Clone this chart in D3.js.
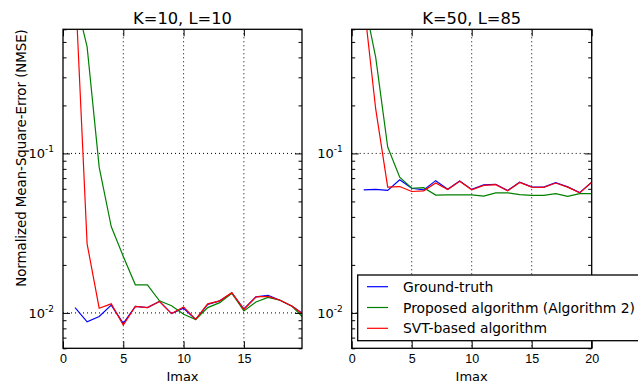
<!DOCTYPE html>
<html lang="en">
<head>
<meta charset="UTF-8">
<title>NMSE vs Imax</title>
<script src="https://d3js.org/d3.v7.min.js" charset="utf-8"></script>
<style>
  body { margin: 0; background: white; }
  svg { font-family: "DejaVu Sans", sans-serif; }
  .axis text { font-size: 12.5px; fill: black; }
  .axis line { stroke: black; stroke-width: 1px; }
  .axis path { display: none; }
  .grid line { stroke: black; stroke-width: 1px; stroke-dasharray: 1,3; }
  .frame { fill: none; stroke: black; stroke-width: 1.3px; }
  .series { fill: none; stroke-width: 1.2px; }
</style>
</head>
<body>
<svg id="chart" width="638" height="385"></svg>
<script>
  // ---------- data ----------
  var imax = [1,2,3,4,5,6,7,8,9,10,11,12,13,14,15,16,17,18,19,20];

  // K=10, L=10
  var truth1 = [0.0108,0.0088,0.0095,0.0112,0.0086,0.0110,0.0108,0.0118,0.0099,0.0107,0.0091,0.0113,0.0119,0.0133,0.0106,0.0126,0.0129,0.0120,0.0110,0.0098];
  var proposed1 = [0.97,0.465,0.082,0.0348,0.0226,0.0150,0.0150,0.0119,0.0111,0.0098,0.0091,0.0108,0.0116,0.0133,0.0103,0.0117,0.0125,0.0120,0.0110,0.0092];
  var svt1 = [1.2,0.0271,0.0107,0.0114,0.0084,0.0110,0.0108,0.0118,0.0099,0.0109,0.0091,0.0114,0.0119,0.0134,0.0105,0.0126,0.0127,0.0120,0.0110,0.0097];

  // K=50, L=85
  var truth2 = [0.0591,0.0595,0.0586,0.0684,0.0605,0.0590,0.0675,0.0596,0.0672,0.0595,0.0635,0.0640,0.0585,0.0660,0.0617,0.0615,0.0655,0.0617,0.0568,0.0660];
  var proposed2 = [0.94,0.40,0.1096,0.071,0.0605,0.061,0.0548,0.0549,0.0549,0.0550,0.0540,0.0566,0.0566,0.0551,0.0546,0.0546,0.0560,0.0538,0.0560,0.0560];
  var svt2 = [0.9,0.19,0.0615,0.062,0.0577,0.0583,0.0652,0.0594,0.0670,0.0592,0.0630,0.0637,0.0583,0.0657,0.0615,0.0613,0.0652,0.0615,0.0566,0.0660];

  var seriesNames = ["Ground-truth", "Proposed algorithm (Algorithm 2)", "SVT-based algorithm"];
  var seriesColors = ["#0000ff", "#008000", "#ff0000"];
  var xTicks = [0,5,10,15,20];
  var yMajor = [0.01, 0.1];
  var yMinor = [0.006,0.007,0.008,0.009,0.02,0.03,0.04,0.05,0.06,0.07,0.08,0.09,0.2,0.3,0.4,0.5,0.6];

  // ---------- layout ----------
  var plotTop = 29.3, plotBottom = 348.3;
  var svg = d3.select("#chart");

  var panels = [
    {title: "K=10, L=10", left: 63, right: 302, xMax: 19.82, data: [truth1, proposed1, svt1]},
    {title: "K=50, L=85", left: 351.7, right: 591.7, xMax: 20, data: [truth2, proposed2, svt2]}
  ];

  panels.forEach(function(p, k) {
    var x = d3.scaleLinear().domain([0, p.xMax]).range([p.left, p.right]);
    var y = d3.scaleLog().domain([0.006, 0.6]).range([plotBottom, plotTop]);
    var ticks = xTicks.filter(function(t){ return t <= p.xMax; });
    var w = p.right - p.left, h = plotBottom - plotTop;

    svg.append("clipPath").attr("id", "clip" + k)
      .append("rect").attr("x", p.left).attr("y", plotTop).attr("width", w).attr("height", h);

    // grid
    var grid = svg.append("g").attr("class", "grid");
    grid.selectAll(".gx").data(ticks.filter(function(t){ return t > 0 && t < p.xMax; }))
      .enter().append("line")
      .attr("x1", function(d){ return x(d); }).attr("x2", function(d){ return x(d); })
      .attr("y1", plotTop).attr("y2", plotBottom);
    grid.selectAll(".gy").data(yMajor)
      .enter().append("line")
      .attr("x1", p.left).attr("x2", p.right)
      .attr("y1", function(d){ return y(d); }).attr("y2", function(d){ return y(d); });

    // lines
    var line = d3.line()
      .x(function(d, i){ return x(imax[i]); })
      .y(function(d){ return y(d); });
    var lines = svg.append("g").attr("clip-path", "url(#clip" + k + ")");
    p.data.forEach(function(vals, j) {
      lines.append("path").attr("class", "series")
        .attr("d", line(vals))
        .style("stroke", seriesColors[j]);
    });

    // x axis (ticks inward), bottom + top
    svg.append("g").attr("class", "axis")
      .attr("transform", "translate(0," + plotBottom + ")")
      .call(d3.axisBottom(x).tickValues(ticks).tickSize(-7).tickPadding(6).tickFormat(d3.format("d")));
    svg.append("g").attr("class", "axis")
      .attr("transform", "translate(0," + plotTop + ")")
      .call(d3.axisTop(x).tickValues(ticks).tickSize(-7).tickFormat(""));

    // y axis major + minor, left + right
    svg.append("g").attr("class", "axis")
      .attr("transform", "translate(" + p.left + ",0)")
      .call(d3.axisLeft(y).tickValues(yMajor).tickSize(-7).tickFormat(""));
    svg.append("g").attr("class", "axis")
      .attr("transform", "translate(" + p.left + ",0)")
      .call(d3.axisLeft(y).tickValues(yMinor).tickSize(-3.5).tickFormat(""));
    svg.append("g").attr("class", "axis")
      .attr("transform", "translate(" + p.right + ",0)")
      .call(d3.axisRight(y).tickValues(yMajor).tickSize(-7).tickFormat(""));
    svg.append("g").attr("class", "axis")
      .attr("transform", "translate(" + p.right + ",0)")
      .call(d3.axisRight(y).tickValues(yMinor).tickSize(-3.5).tickFormat(""));

    // y tick labels 10^-n
    var lab = svg.append("g").selectAll("text").data(yMajor).enter().append("text")
      .attr("x", p.left - 9)
      .attr("y", function(d){ return y(d) + 4.6; })
      .attr("text-anchor", "end")
      .style("font-size", "13px");
    lab.append("tspan").text("10");
    lab.append("tspan").attr("dy", -6).style("font-size", "9px")
      .text(function(d){ return "-" + Math.round(-Math.log10(d)); });

    svg.append("rect").attr("class", "frame")
      .attr("x", p.left).attr("y", plotTop).attr("width", w).attr("height", h);

    svg.append("text")
      .attr("x", (p.left + p.right) / 2).attr("y", 24)
      .attr("text-anchor", "middle")
      .style("font-size", "16.3px")
      .text(p.title);

    svg.append("text")
      .attr("x", (p.left + p.right) / 2).attr("y", 381)
      .attr("text-anchor", "middle")
      .style("font-size", "13px")
      .text("Imax");
  });

  // y label
  svg.append("text")
    .attr("transform", "translate(26,158) rotate(-90)")
    .attr("text-anchor", "middle")
    .style("font-size", "13.3px")
    .text("Normalized Mean-Square-Error (NMSE)");

  //--------------- legend -------------------
  var legend = svg.append("g");
  legend.append("rect")
    .attr("x", 357.7).attr("y", 275).attr("width", 290).attr("height", 65.7)
    .style("fill", "white").style("stroke", "black").style("stroke-width", "1.3px");
  seriesNames.forEach(function(name, j) {
    var ly = 286.7 + j * 20.8;
    legend.append("line")
      .attr("x1", 367).attr("x2", 388).attr("y1", ly).attr("y2", ly)
      .style("stroke", seriesColors[j]).style("stroke-width", "1.2px");
    legend.append("text")
      .attr("x", 403).attr("y", ly + 5)
      .style("font-size", "13.9px")
      .text(name);
  });
</script>
</body>
</html>
